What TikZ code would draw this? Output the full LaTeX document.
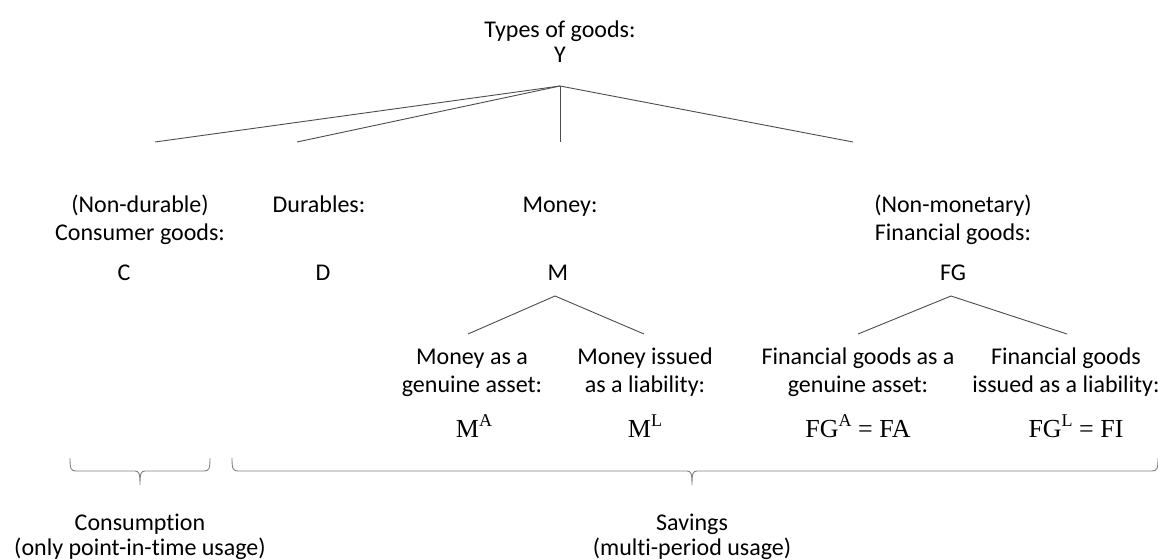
\documentclass[tikz,border=0pt]{standalone}
\usepackage{fontspec}
\setmainfont[RawFeature={-liga;-clig;-calt;-dlig}]{Carlito}
\newfontfamily\eqfont{Liberation Serif}
\tikzset{
  x=1pt, y=-1pt,
  lbl/.style={inner sep=0pt, anchor=base, align=center, font=\fontsize{24}{29}\selectfont},
  eq/.style={inner sep=0pt, anchor=base, font=\eqfont\fontsize{26}{30}\selectfont},
  branch/.style={draw=black!70, line width=0.9pt},
  bracepath/.style={draw=black!50, line width=0.9pt},
}
\newcommand{\sups}[1]{\raisebox{0.42em}{\fontsize{18}{18}\selectfont #1}}
\begin{document}
\begin{tikzpicture}
\useasboundingbox (0,0) rectangle (1158,559);
% root
\node[lbl] (title) at (560,38) {Types of goods:};
\node[lbl] (Y) at (560,63) {Y};
\coordinate (root) at (560,86);
% level 2
\node[lbl] (cg1) at (140,212) {(Non-durable)};
\node[lbl] (cg2) at (140,240) {Consumer goods:};
\node[lbl] (C) at (124,280) {C};
\node[lbl] (dur) at (319,212) {Durables:};
\node[lbl] (D) at (323,280) {D};
\node[lbl] (mon) at (560,212) {Money:};
\node[lbl] (M) at (558,280) {M};
\node[lbl] (fg1) at (953,212) {(Non-monetary)};
\node[lbl] (fg2) at (953,240) {Financial goods:};
\node[lbl] (FG) at (953,280) {FG};
\coordinate (cEnd) at (155,142);
\coordinate (dEnd) at (297,142);
\coordinate (mEnd) at (560,142);
\coordinate (fEnd) at (853,142);
\draw[branch] (root) -- (cEnd);
\draw[branch] (root) -- (dEnd);
\draw[branch] (root) -- (mEnd);
\draw[branch] (root) -- (fEnd);
% level 3 money
\coordinate (mTop) at (555,296);
\coordinate (maEnd) at (468,334);
\coordinate (mlEnd) at (644,334);
\draw[branch] (mTop) -- (maEnd);
\draw[branch] (mTop) -- (mlEnd);
\node[lbl] (ma1) at (472,364) {Money as a};
\node[lbl] (ma2) at (472,392) {genuine asset:};
\node[eq] (MA) at (474,437) {M\sups{A}};
\node[lbl] (ml1) at (645,364) {Money issued};
\node[lbl] (ml2) at (645,392) {as a liability:};
\node[eq] (ML) at (645,437) {M\sups{L}};
% level 3 financial goods
\coordinate (fTop) at (951,296);
\coordinate (faEnd) at (858,334);
\coordinate (flEnd) at (1067,334);
\draw[branch] (fTop) -- (faEnd);
\draw[branch] (fTop) -- (flEnd);
\node[lbl] (fa1) at (858,364) {Financial goods as a};
\node[lbl] (fa2) at (858,392) {genuine asset:};
\node[eq] (FA) at (858,437) {FG\sups{A} = FA};
\node[lbl] (fl1) at (1066,364) {Financial goods};
\node[lbl] (fl2) at (1066,392) {issued as a liability:};
\node[eq] (FI) at (1076,437) {FG\sups{L} = FI};
% braces
\draw[bracepath] (70,458) .. controls (70,469) and (71,471) .. (76,471) -- (135,471)
  .. controls (139,471) and (140,473) .. (140,485)
  .. controls (140,473) and (141,471) .. (145,471) -- (204,471)
  .. controls (209,471) and (210,469) .. (210,458);
\draw[bracepath] (232,458) .. controls (232,469) and (233,471) .. (238,471) -- (687,471)
  .. controls (691,471) and (692,473) .. (692,485)
  .. controls (692,473) and (693,471) .. (697,471) -- (1152,471)
  .. controls (1157,471) and (1158,469) .. (1158,458);
\node[lbl] (cons1) at (140,530) {Consumption};
\node[lbl] (cons2) at (140,555) {(only point-in-time usage)};
\node[lbl] (sav1) at (692,530) {Savings};
\node[lbl] (sav2) at (692,555) {(multi-period usage)};
\end{tikzpicture}
\end{document}
